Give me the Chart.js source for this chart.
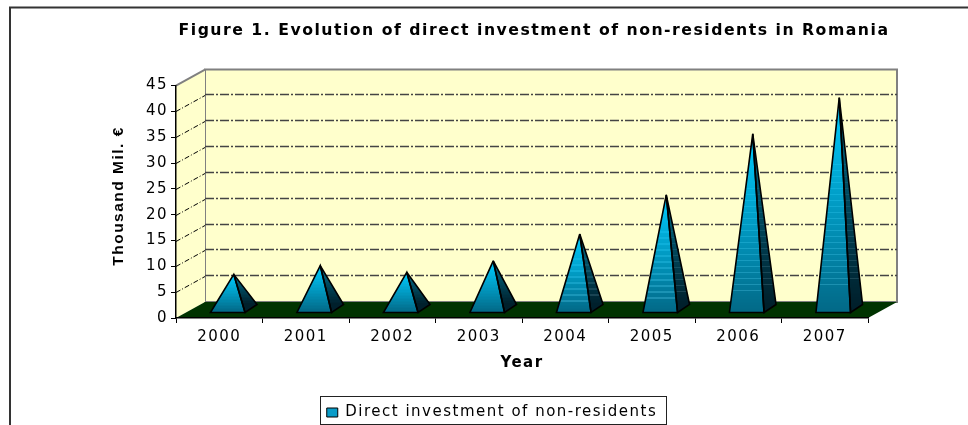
<!DOCTYPE html>
<html>
<head>
<meta charset="utf-8">
<style>
  html, body { margin: 0; padding: 0; background: #fff; }
  #wrap { width: 968px; height: 425px; }
</style>
<script src="https://cdn.jsdelivr.net/npm/chart.js@4/dist/chart.umd.min.js"></script>
</head>
<body>
<div id="wrap"><canvas id="chart" width="968" height="425"></canvas></div>
<script>
// Data
const years = ['2000', '2001', '2002', '2003', '2004', '2005', '2006', '2007'];
const directInvestment = [6.8, 8.5, 7.2, 9.4, 14.6, 22.2, 34, 41];
const seriesName = 'Direct investment of non-residents';

// 3D look of the Excel chart
const depthX = 29;
const depthY = 16;

function setSpacing(chart) {
    chart.ctx.letterSpacing = '1.5px';
}

function wallsAndGrid(chart) {
    const ctx = chart.ctx;
    const area = chart.chartArea;
    const yScale = chart.scales.y;

    ctx.save();
    ctx.letterSpacing = '0px';

    // outer frame, only top and left are visible
    ctx.strokeStyle = '#333';
    ctx.lineWidth = 2;
    ctx.beginPath();
    ctx.moveTo(10, 425);
    ctx.lineTo(10, 7.5);
    ctx.lineTo(968, 7.5);
    ctx.stroke();

    // back wall and side wall
    ctx.fillStyle = '#ffffcc';
    ctx.strokeStyle = '#808080';
    ctx.lineWidth = 2;
    ctx.beginPath();
    ctx.rect(area.left + depthX, area.top - depthY, area.width, area.height);
    ctx.fill();
    ctx.stroke();
    ctx.beginPath();
    ctx.moveTo(area.left, area.top);
    ctx.lineTo(area.left + depthX, area.top - depthY);
    ctx.lineTo(area.left + depthX, area.bottom - depthY);
    ctx.lineTo(area.left, area.bottom);
    ctx.closePath();
    ctx.fill();
    ctx.beginPath();
    ctx.moveTo(area.left, area.top);
    ctx.lineTo(area.left + depthX, area.top - depthY);
    ctx.stroke();

    // dash-dot gridlines
    yScale.ticks.forEach(t => {
        if (t.value === 0 || t.value === yScale.max) return;
        const y = Math.round(yScale.getPixelForValue(t.value)) + 0.5;
        ctx.strokeStyle = '#000';
        ctx.lineWidth = 1;
        ctx.setLineDash([5, 2, 1, 2]);
        ctx.beginPath();
        ctx.moveTo(area.left, y);
        ctx.lineTo(area.left + depthX, y - depthY);
        ctx.stroke();
        ctx.strokeStyle = '#444';
        ctx.lineWidth = 1.4;
        ctx.setLineDash([9, 2, 2, 2]);
        ctx.beginPath();
        ctx.moveTo(area.left + depthX, y - depthY - 1);
        ctx.lineTo(area.right + depthX, y - depthY - 1);
        ctx.stroke();
    });
    ctx.setLineDash([]);

    // floor
    ctx.fillStyle = '#003300';
    ctx.beginPath();
    ctx.moveTo(area.left, area.bottom);
    ctx.lineTo(area.left + depthX, area.bottom - depthY);
    ctx.lineTo(area.right + depthX, area.bottom - depthY);
    ctx.lineTo(area.right, area.bottom);
    ctx.closePath();
    ctx.fill();
    ctx.restore();
}

function facePath(ctx, pts) {
    ctx.beginPath();
    ctx.moveTo(pts[0][0], pts[0][1]);
    for (let i = 1; i < pts.length; i++) ctx.lineTo(pts[i][0], pts[i][1]);
    ctx.closePath();
}

// banded gradient, the original fill shows thin lighter streaks low down
function bandedGradient(ctx, top, bottom, from, to) {
    const g = ctx.createLinearGradient(0, top, 0, bottom);
    const steps = Math.max(8, Math.round((bottom - top) / 1.5));
    for (let i = 0; i < steps; i++) {
        const k = i / (steps - 1);
        const streak = (steps > 40 && k > 0.3 && k < 0.9 && i % 4 === 0) ? 30 * k : 0;
        const c = from.map((v, n) => Math.min(255, Math.round(v + (to[n] - v) * k + streak)));
        const col = `rgb(${c[0]},${c[1]},${c[2]})`;
        g.addColorStop(i / steps, col);
        g.addColorStop((i + 1) / steps, col);
    }
    return g;
}

function drawPyramids(chart) {
    const ctx = chart.ctx;
    const bars = chart.getDatasetMeta(0).data;

    ctx.save();
    ctx.lineJoin = 'miter';
    ctx.miterLimit = 3;
    bars.forEach(bar => {
        const half = bar.width / 2;
        const baseY = bar.base;
        // base of the pyramid sits inside the floor depth
        const fl = [bar.x - half + 8.5, baseY - 5];
        const fr = [bar.x + half + 8.5, baseY - 5];
        const br = [bar.x + half + 20.5, baseY - 13];
        const apex = [bar.x + 14.5, bar.y - 8.5];

        ctx.fillStyle = bandedGradient(ctx, apex[1], fl[1], [0, 204, 255], [2, 105, 135]);
        facePath(ctx, [apex, fl, fr]);
        ctx.fill();

        ctx.fillStyle = bandedGradient(ctx, apex[1], br[1], [0, 110, 140], [0, 32, 44]);
        facePath(ctx, [apex, fr, br]);
        ctx.fill();

        ctx.strokeStyle = '#000';
        ctx.lineWidth = 1.6;
        facePath(ctx, [apex, fl, fr]);
        ctx.stroke();
        facePath(ctx, [apex, fr, br]);
        ctx.stroke();
    });
    ctx.restore();
}

const pyramidPlugin = {
    id: 'pyramid',
    beforeUpdate: setSpacing,
    afterLayout(chart) {
        // title and legend are not centred on the canvas in the original
        const t = chart.titleBlock;
        t.left += 100;
        t.right += 100;
        const l = chart.legend;
        l.left += 58;
        l.right += 58;
        l.top += 5;
        l.bottom += 5;
        l.legendHitBoxes.forEach(b => { b.left += 58; b.top += 5; });
    },
    beforeDraw(chart) {
        setSpacing(chart);
        wallsAndGrid(chart);
    },
    afterDatasetsDraw: drawPyramids,
    afterDraw(chart) {
        // frame of the legend
        const ctx = chart.ctx;
        ctx.save();
        ctx.strokeStyle = '#222';
        ctx.lineWidth = 1;
        ctx.strokeRect(320.5, 396.5, 346, 28);
        ctx.restore();
    }
};

Chart.defaults.font.family = '"DejaVu Sans", "Liberation Sans", sans-serif';
Chart.defaults.color = '#000';

new Chart(document.getElementById('chart'), {
    type: 'bar',
    data: {
        labels: years,
        datasets: [{
            label: seriesName,
            data: directInvestment,
            backgroundColor: 'rgba(0,0,0,0)',
            borderWidth: 0,
            barPercentage: 0.4,
            categoryPercentage: 1
        }]
    },
    plugins: [pyramidPlugin],
    options: {
        responsive: false,
        animation: false,
        events: [],
        layout: { autoPadding: false, padding: { left: 0, right: 100, top: 0, bottom: 0 } },
        plugins: {
            tooltip: { enabled: false },
            title: {
                display: true,
                text: 'Figure 1. Evolution of direct investment of non-residents in Romania',
                font: { size: 15.7, weight: 'bold', lineHeight: 1.2 },
                color: '#000',
                padding: { top: 22, bottom: 44.7 }
            },
            legend: {
                position: 'bottom',
                labels: {
                    font: { size: 15 },
                    color: '#000',
                    boxWidth: 11,
                    boxHeight: 9,
                    padding: 11,
                    generateLabels: () => [{
                        text: seriesName,
                        fillStyle: '#0a9cc8',
                        strokeStyle: '#000',
                        lineWidth: 1,
                        datasetIndex: 0
                    }]
                }
            }
        },
        scales: {
            x: {
                afterFit: s => { s.height = 71; },
                grid: { display: true, drawOnChartArea: false, offset: true, tickLength: 5, color: '#000' },
                border: { display: true, color: '#000', width: 1.5 },
                ticks: { font: { size: 15 }, color: '#000', padding: 5, maxRotation: 0 },
                title: {
                    display: true,
                    text: 'Year',
                    font: { size: 15, weight: 'bold', lineHeight: 1.2 },
                    color: '#000',
                    padding: { top: 0, bottom: 17 }
                }
            },
            y: {
                min: 0,
                max: 45,
                afterFit: s => { s.width = 176; },
                grid: { display: true, drawOnChartArea: false, tickLength: 5, color: '#000' },
                border: { display: true, color: '#000', width: 1.5 },
                ticks: { stepSize: 5, font: { size: 15 }, color: '#000', padding: 3 },
                title: {
                    display: true,
                    text: '  Thousand Mil. €',
                    font: { family: '"Liberation Sans", sans-serif', size: 15.5, weight: 'bold', lineHeight: 1.2 },
                    color: '#000',
                    padding: { top: 109, bottom: 0 }
                }
            }
        }
    }
});
</script>
</body>
</html>
